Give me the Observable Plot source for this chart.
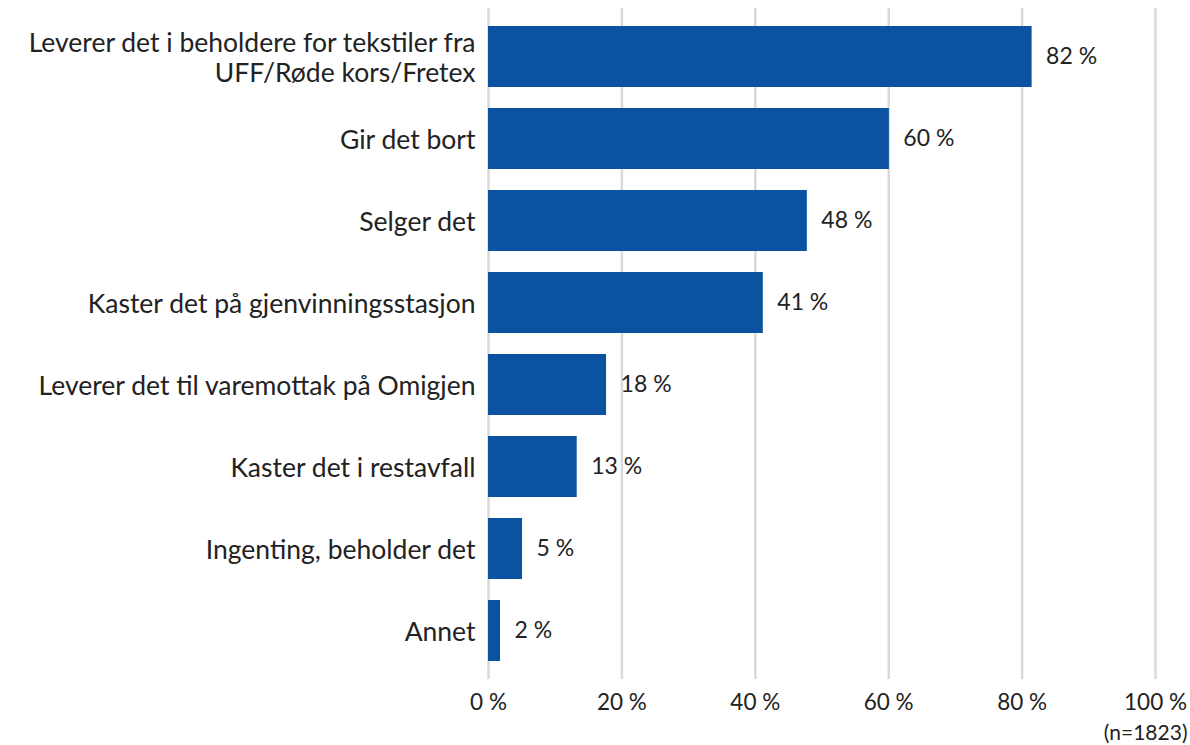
<!DOCTYPE html>
<html>
<head>
<meta charset="utf-8">
<script src="https://cdn.jsdelivr.net/npm/d3@7"></script>
<script src="https://cdn.jsdelivr.net/npm/@observablehq/plot@0.6"></script>
<style>
  html, body { margin: 0; padding: 0; background: #fff; }
  #chart svg { display: block; }
</style>
</head>
<body>
<div id="chart"></div>
<script>
const categories = [
  "Leverer det i beholdere for tekstiler fra\nUFF/Røde kors/Fretex",
  "Gir det bort",
  "Selger det",
  "Kaster det på gjenvinningsstasjon",
  "Leverer det til varemottak på Omigjen",
  "Kaster det i restavfall",
  "Ingenting, beholder det",
  "Annet"
];
const values = [81.5, 60.1, 47.8, 41.2, 17.7, 13.3, 5.1, 1.8];
const valueLabels = ["82 %", "60 %", "48 %", "41 %", "18 %", "13 %", "5 %", "2 %"];
const xTicks = [0, 20, 40, 60, 80, 100];
const caption = "(n=1823)";

const data = categories.map((c, i) => ({category: c, value: values[i], label: valueLabels[i]}));

const font = "Lato, 'Open Sans', sans-serif";
const chart = Plot.plot({
  width: 1190,
  height: 745,
  marginLeft: 488,
  marginRight: 35,
  marginTop: 8,
  marginBottom: 66,
  style: {fontFamily: font, color: "#222", background: "#fff"},
  x: {domain: [0, 100], ticks: xTicks, axis: null},
  y: {domain: categories, axis: null, paddingInner: 0.26, paddingOuter: 0.22},
  marks: [
    Plot.ruleX(xTicks, {stroke: "#d9d9d9", strokeWidth: 2.5}),
    Plot.barX(data, {x: "value", y: "category", fill: "#0b52a0"}),
    Plot.text(data, {x: "value", y: "category", text: "label", textAnchor: "start", dx: 14, fontSize: 23, fill: "#222"}),
    Plot.text(data, {x: 0, y: "category", text: "category", textAnchor: "end", dx: -13, fontSize: 26.5, lineHeight: 1.14, fill: "#222"}),
    Plot.text(xTicks, {x: d => d, frameAnchor: "bottom", text: d => `${d} %`, dy: 30, fontSize: 22.5, fill: "#222"}),
    Plot.text([caption], {frameAnchor: "bottom-right", text: d => d, textAnchor: "end", dx: 32, dy: 60, fontSize: 21, fill: "#222"})
  ]
});
document.getElementById("chart").append(chart);
</script>
</body>
</html>
